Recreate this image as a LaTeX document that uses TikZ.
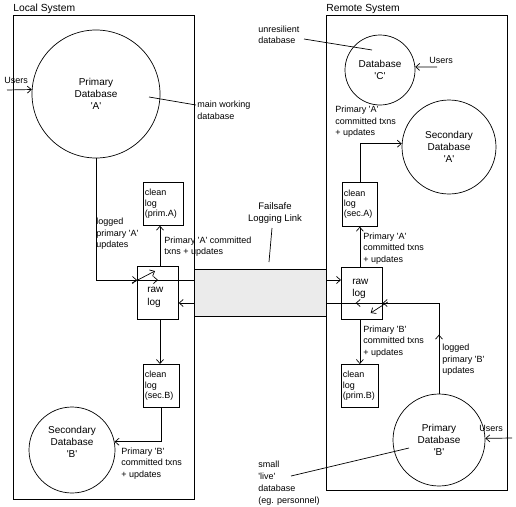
\documentclass[tikz,border=0pt]{standalone}
\usepackage{fontspec}
\setmainfont{Liberation Sans}
\usetikzlibrary{arrows.meta}
\newcommand{\qq}{\textquotesingle}
\begin{document}
\begin{tikzpicture}[x=1pt,y=-1pt,line width=0.7pt,
  arr/.style={-{Straight Barb[length=4pt,width=7pt]}},
  sysbox/.style={draw,rectangle,anchor=north west,inner sep=0pt},
  db/.style={draw,circle,inner sep=0pt,align=center,font=\fontsize{10}{12}\selectfont},
  dbtext/.style={align=center,font=\fontsize{10}{12}\selectfont,inner sep=0pt},
  logbox/.style={draw,rectangle,anchor=north west,inner xsep=1.5pt,inner ysep=0pt,align=left,font=\fontsize{9}{10.2}\selectfont},
  rawbox/.style={draw,rectangle,anchor=north west,inner sep=0pt},
  rawtext/.style={anchor=west,align=left,inner sep=0pt,font=\fontsize{10}{12.5}\selectfont},
  lbl/.style={anchor=west,align=left,inner sep=0pt,font=\fontsize{9}{11.5}\selectfont},
  ttl/.style={anchor=west,inner sep=0pt,font=\fontsize{10.3}{12}\selectfont}]
\useasboundingbox (0,0) rectangle (516,506);

% system boxes
\node[sysbox,minimum width=181pt,minimum height=484pt] (loc) at (13,15) {};
\node[sysbox,minimum width=181pt,minimum height=475pt] (rem) at (326,15) {};
\node[ttl] (loct) at (13,8.5) {Local System};
\node[ttl] (remt) at (326,8.5) {Remote System};

% link band
\node[draw,fill=black!8,rectangle,anchor=north west,inner sep=0pt,minimum width=132pt,minimum height=47pt] (band) at (194,269) {};

% databases
\node[db,minimum size=128pt] (pa) at (96,94) {Primary\\Database\\\qq A\qq};
\node[db,minimum size=70pt] (dc) at (380,70) {Database\\\qq C\qq};
\node[db,minimum size=94pt] (sa) at (449,147) {Secondary\\Database\\\qq A\qq};
\node[db,minimum size=86pt,label={[dbtext,yshift=8pt]center:{Secondary\\Database\\\qq B\qq}}] (sb) at (72,450) {};
\node[db,minimum size=92pt] (pb) at (439,440) {Primary\\Database\\\qq B\qq};

% logs
\node[logbox,text width=37pt,minimum height=43pt] (cpa) at (143,182) {clean\\log\\(prim.A)};
\node[logbox,text width=32pt,minimum height=44pt] (csa) at (342,182) {clean\\log\\(sec.A)};
\node[logbox,text width=33pt,minimum height=43pt] (csb) at (143,364) {clean\\log\\(sec.B)};
\node[logbox,text width=34pt,minimum height=43pt] (cpb) at (341,364) {clean\\log\\(prim.B)};
\node[rawbox,minimum width=41pt,minimum height=53pt] (rawL) at (137,266) {};
\node[rawtext] (rawLt) at (147,297.5) {raw\\log};
\node[rawbox,minimum width=41pt,minimum height=52pt] (rawR) at (341,267) {};
\node[rawtext] (rawRt) at (352,289) {raw\\log};

% helper coordinates
\coordinate (y280) at (0,280);
\coordinate (y303) at (0,303);
\coordinate (x160) at (160,0);

% labels
\node[lbl] (uL) at (4,80) {Users};
\node[lbl] (mw) at (197,110.5) {main working\\database};
\node[lbl] (lga) at (96,234) {logged\\primary \qq A\qq\\updates};
\node[lbl] (pac) at (164,246.5) {Primary \qq A\qq\ committed\\txns + updates};
\node[align=center,inner sep=0pt,font=\fontsize{9.5}{12}\selectfont] (fl) at (275,213) {Failsafe\\Logging Link};
\node[lbl] (unr) at (258,35) {unresilient\\database};
\node[lbl] (uC) at (429,60) {Users};
\node[lbl] (pac2) at (335,122) {Primary \qq A\qq\\committed txns\\+ updates};
\node[lbl] (pac3) at (363,248.5) {Primary \qq A\qq\\committed txns\\+ updates};
\node[lbl] (pbc) at (363,341.5) {Primary \qq B\qq\\committed txns\\+ updates};
\node[lbl] (lgb) at (442,360) {logged\\primary \qq B\qq\\updates};
\node[lbl] (uR) at (479,428) {Users};
\node[lbl] (pbc2) at (121,463.5) {Primary \qq B\qq\\committed txns\\+ updates};
\node[lbl,font=\fontsize{9}{12}\selectfont] (sml) at (258,483) {small\\\qq live\qq\\database\\(eg. personnel)};

% free ends
\coordinate (uLs) at (7,90);
\coordinate (uRs) at (512,438);
\coordinate (uCs) at (437,67);
\coordinate (mwA) at (149,97);
\coordinate (mwB) at (196,105);
\coordinate (unA) at (304,39);
\coordinate (unB) at (372,50);
\coordinate (smA) at (291,476);
\coordinate (smB) at (409,448);
\coordinate (flA) at (272,228);
\coordinate (flB) at (269,262);

% user arrows
\draw[arr] (uLs) -- (pa.176);
\draw[arr] (uRs) -- (pb.2.5);
\draw[arr] (uCs) -- (dc.5);

% pointer lines
\draw (mwA) -- (mwB);
\draw (unA) -- (unB);
\draw (smA) -- (smB);
\draw (flA) -- (flB);

% local flows
\coordinate (aL) at (rawL.west |- y280);
\draw[arr] (pa.south) |- (aL);
\draw (aL) -- (band.west |- y280);
\draw[arr] (aL) -- ++(21,0);
\draw[arr] ([shift={(-5,3)}]aL) -- ++(23,-12);
\draw[arr] (rawL.north -| x160) -- (cpa.south -| x160);
\draw[arr] (band.west |- y303) -- (rawL.east |- y303);
\draw[arr] (rawL.south -| x160) -- (csb.north -| x160);
\draw[arr] (csb.south) |- (sb.11);

% remote flows
\draw[arr] (band.east |- y280) -- (rawR.west |- y280);
\coordinate (bR) at (rawR.east |- y303);
\draw (pb.north) |- (band.east |- y303);
\draw[arr] (pb.north) -- ++(0,-59);
\draw[arr] (pb.north |- y303) -- (bR);
\draw[arr] (bR) -- ++(-27,0);
\draw[arr] ([shift={(5,-1)}]bR) -- ++(-17,11);
\draw[arr] (rawR.north -| csa.south) -- (csa.south);
\draw[arr] (csa.north) |- (sa.176);
\draw[arr] (rawR.south -| cpb.north) -- (cpb.north);
\end{tikzpicture}
\end{document}
